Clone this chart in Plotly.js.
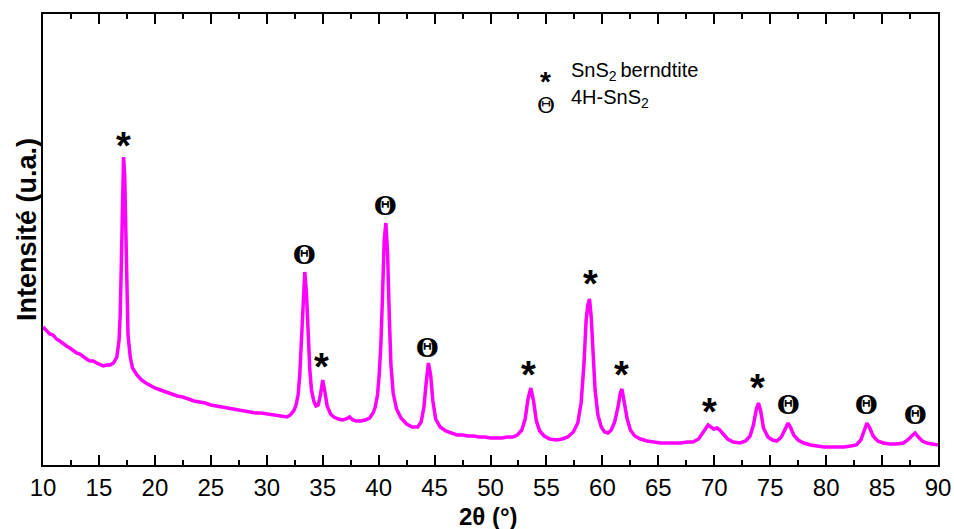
<!DOCTYPE html>
<html>
<head>
<meta charset="utf-8">
<script src="https://cdn.plot.ly/plotly-3.0.1.min.js"></script>
<style>html,body{margin:0;padding:0;background:#fff;}#chart{width:954px;height:529px;}</style>
</head>
<body>
<div id="chart"></div>
<script>
// 2θ (degrees)
const twoTheta = [
  10,10.3,10.6,10.9,11.2,11.5,11.8,12.1,12.4,12.7,
  13,13.3,13.6,13.9,14.2,14.5,14.8,15.1,15.4,15.7,
  16,16.3,16.6,16.8,16.9,17,17.1,17.2,17.3,17.4,
  17.5,17.6,17.8,18,18.4,18.8,19.2,19.6,20,20.5,
  21,21.5,22,22.5,23,23.5,24,24.5,25,25.5,
  26,26.5,27,27.5,28,28.5,29,29.5,30,30.5,
  31,31.5,31.8,32.1,32.4,32.6,32.8,32.95,33.1,33.25,
  33.4,33.55,33.7,33.85,34,34.2,34.4,34.6,34.8,35,
  35.2,35.4,35.7,36,36.4,36.8,37.1,37.4,37.7,38,
  38.4,38.8,39.2,39.5,39.7,39.9,40.05,40.2,40.35,40.5,
  40.65,40.8,40.95,41.1,41.3,41.6,42,42.5,43,43.5,
  43.8,44.05,44.25,44.45,44.65,44.85,45.1,45.5,46,46.5,
  47,47.5,48,48.5,49,49.5,50,50.5,51,51.5,
  52,52.4,52.8,53.1,53.35,53.6,53.85,54.1,54.4,54.8,
  55.3,55.9,56.4,56.9,57.4,57.8,58.1,58.35,58.55,58.7,
  58.85,59,59.15,59.35,59.6,59.9,60.2,60.5,60.8,61.1,
  61.4,61.6,61.75,61.95,62.2,62.5,62.9,63.4,64,64.6,
  65.2,65.8,66.4,67,67.6,68.1,68.6,68.95,69.2,69.45,
  69.7,69.95,70.25,70.5,70.8,71.2,71.7,72.3,72.8,73.2,
  73.5,73.75,73.95,74.15,74.4,74.8,75.2,75.6,76,76.3,
  76.6,76.85,77.1,77.5,78,78.6,79.2,79.8,80.4,81,
  81.6,82.2,82.7,83.1,83.4,83.65,83.9,84.2,84.6,85.1,
  85.7,86.3,86.9,87.3,87.65,87.95,88.25,88.6,89,89.5,
  90];
// Intensity (arbitrary units)
const intensity = [
  138,134,131,130,126,124,121,119,117,114,
  112,111,108,106,104,104,102,100,99,100,
  100,102,108,125,150,200,265,308,290,235,
  170,130,108,97,90,85,82,79,77,75,
  73,71,69,68,66,64,63,62,60,59,
  58,57,56,55,54,53,52,52,51,50,
  49,48,48,50,54,59,70,90,125,165,
  193,172,130,95,75,64,59,60,70,85,
  73,59,51,48,46,45,46,48,45,44,
  44,45,47,52,58,70,90,120,170,225,
  242,212,150,100,72,56,47,41,38,38,
  43,58,82,102,90,64,46,38,34,32,
  30,30,29,29,28,28,27,27,27,28,
  28,30,35,46,66,77,64,44,34,29,
  26,25,26,28,33,42,62,100,145,160,
  166,148,110,75,50,38,33,32,35,43,
  58,72,76,65,47,35,29,26,24,23,
  22,22,22,22,23,23,26,32,37,40,
  38,36,37,35,31,26,23,22,24,29,
  40,55,62,54,37,28,25,24,28,35,
  42,37,30,25,22,20,19,18,18,18,
  18,19,20,25,35,42,37,29,24,22,
  21,21,22,25,29,32,28,24,22,21,
  20];

// Peak labels
const labelX = [17.2, 33.4, 34.9, 40.6, 44.4, 53.4, 58.9, 61.7, 69.6, 73.9, 76.6, 83.6, 88.0];
const labelY = [328, 210, 107, 259, 117, 99, 190, 99, 62, 86, 60, 60, 50];
const labelSym = ["*", "Θ", "*", "Θ", "Θ", "*", "*", "*", "*", "*", "Θ", "Θ", "Θ"];

const legendSym = ["*", "Θ"];
const legendText = ["SnS<sub>2 </sub>berndtite", "4H-SnS<sub>2</sub>"];

const FONT = "Liberation Sans, Arial, Helvetica, sans-serif";
const THETA_FONT = "DejaVu Serif, DejaVu Sans, serif";

const annotations = labelX.map((x, i) => {
  const star = labelSym[i] === "*";
  return {
    x: x, y: labelY[i], xref: "x", yref: "y", showarrow: false,
    xanchor: "center", yanchor: "middle",
    text: star ? "<b>*</b>" : "<b>Θ</b>",
    font: {family: star ? FONT : THETA_FONT, size: star ? 38 : 26, color: "#000"},
    yshift: star ? -9 : 0
  };
});

legendSym.forEach((s, i) => {
  const star = s === "*";
  annotations.push({
    x: 0.562, y: 0.866 - i * 0.068, xref: "paper", yref: "paper", showarrow: false,
    text: star ? "<b>*</b>" : "Θ", xanchor: "center", yanchor: "middle",
    font: {family: star ? FONT : THETA_FONT, size: star ? 28 : 22, color: "#000"},
    yshift: star ? -7 : 0
  });
  annotations.push({
    x: 0.588, y: 0.872 - i * 0.06, xref: "paper", yref: "paper", showarrow: false,
    text: legendText[i], xanchor: "left", yanchor: "middle",
    font: {family: FONT, size: 20, color: "#000"}
  });
});

annotations.push({
  x: -0.018, y: 0.523, xref: "paper", yref: "paper", showarrow: false,
  xanchor: "center", yanchor: "middle",
  text: "<b>Intensité (u.a.)</b>", textangle: -90,
  font: {family: FONT, size: 27, color: "#000"}
});
annotations.push({
  x: 0.498, y: -0.115, xref: "paper", yref: "paper", showarrow: false,
  xanchor: "center", yanchor: "middle",
  text: "<b>2θ (°)</b>",
  font: {family: FONT, size: 24, color: "#000"}
});

const trace = {
  x: twoTheta, y: intensity, type: "scatter", mode: "lines",
  line: {color: "#ff00ff", width: 3.5}, hoverinfo: "skip"
};

const layout = {
  width: 954, height: 529,
  margin: {l: 43, r: 16, t: 14, b: 64},
  paper_bgcolor: "#fff", plot_bgcolor: "#fff",
  showlegend: false,
  xaxis: {
    range: [10, 90], dtick: 5, tick0: 10, ticks: "inside", ticklen: 10, tickwidth: 2,
    tickcolor: "#000", showline: true, linewidth: 2, linecolor: "#000", mirror: "ticks",
    showgrid: false, zeroline: false,
    tickfont: {family: FONT, size: 24, color: "#000"},
    minor: {dtick: 2.5, ticks: "inside", ticklen: 5, tickwidth: 2, tickcolor: "#000", showgrid: false}
  },
  yaxis: {
    range: [0, 451], showticklabels: false, ticks: "", showgrid: false, zeroline: false,
    showline: true, linewidth: 2, linecolor: "#000", mirror: true
  },
  annotations: annotations
};

Plotly.newPlot("chart", [trace], layout, {displayModeBar: false, staticPlot: true});
</script>
</body>
</html>
